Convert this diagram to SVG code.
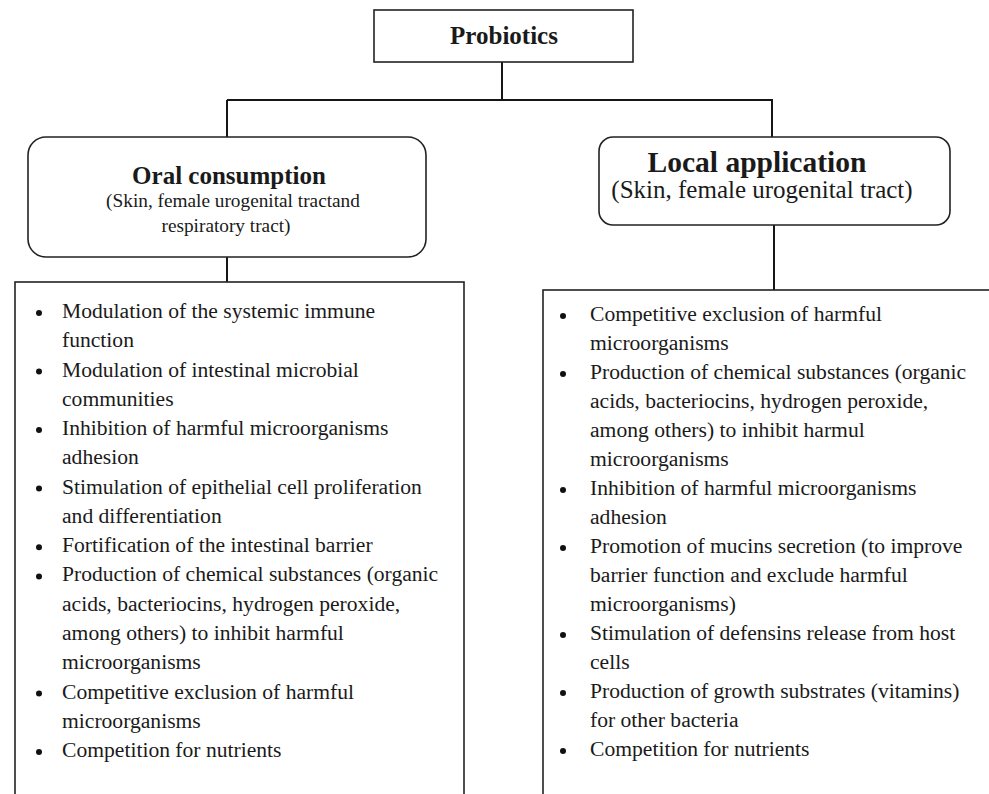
<svg xmlns="http://www.w3.org/2000/svg" width="989" height="794" viewBox="0 0 989 794">
<style>
.box{fill:#fff;stroke:#222;stroke-width:1.6}
.conn{stroke:#161616;stroke-width:2;fill:none}
.h{font-family:"Liberation Serif",serif;font-weight:bold;font-size:25px;fill:#1a1a1a;text-anchor:middle}
.s{font-family:"Liberation Serif",serif;font-size:19.3px;fill:#1a1a1a;text-anchor:middle}
.h2{font-family:"Liberation Serif",serif;font-weight:bold;font-size:29.5px;fill:#1a1a1a;text-anchor:middle}
.s2{font-family:"Liberation Serif",serif;font-size:25px;fill:#1a1a1a;text-anchor:middle}
.li{font-family:"Liberation Serif",serif;font-size:21.6px;fill:#1a1a1a}
.b{fill:#111}
</style>
<rect width="989" height="794" fill="#fff"/>
<g id="connectors">
<line class="conn" x1="502" y1="62" x2="502" y2="100"/>
<line class="conn" x1="227" y1="100" x2="773" y2="100"/>
<line class="conn" x1="227" y1="100" x2="227" y2="137"/>
<line class="conn" x1="772" y1="100" x2="772" y2="137"/>
<line class="conn" x1="227" y1="257" x2="227" y2="282"/>
<line class="conn" x1="774" y1="225" x2="774" y2="290"/>
</g>
<g id="probiotics">
<rect class="box" x="374" y="10" width="259" height="52"/>
<text class="h" x="504" y="44">Probiotics</text>
</g>
<g id="oral">
<rect class="box" x="28" y="137" width="398" height="120" rx="18"/>
<text class="h" x="229" y="184">Oral consumption</text>
<text class="s" x="233" y="207">(Skin, female urogenital tractand</text>
<text class="s" x="226" y="232">respiratory tract)</text>
</g>
<g id="local">
<rect class="box" x="599" y="137" width="351" height="88" rx="14"/>
<text class="h2" x="757" y="172">Local application</text>
<text class="s2" x="762" y="198">(Skin, female urogenital tract)</text>
</g>
<g id="oral-list">
<rect class="box" x="15" y="282" width="449" height="530"/>
<g class="b">
<circle cx="39" cy="313" r="3"/>
<circle cx="39" cy="371.5" r="3"/>
<circle cx="39" cy="430.1" r="3"/>
<circle cx="39" cy="488.6" r="3"/>
<circle cx="39" cy="547.2" r="3"/>
<circle cx="39" cy="576.4" r="3"/>
<circle cx="39" cy="693.5" r="3"/>
<circle cx="39" cy="752" r="3"/>
</g>
<text class="li" x="62" y="318">Modulation of the systemic immune</text>
<text class="li" x="62" y="347.3">function</text>
<text class="li" x="62" y="376.5">Modulation of intestinal microbial</text>
<text class="li" x="62" y="405.8">communities</text>
<text class="li" x="62" y="435.1">Inhibition of harmful microorganisms</text>
<text class="li" x="62" y="464.4">adhesion</text>
<text class="li" x="62" y="493.6">Stimulation of epithelial cell proliferation</text>
<text class="li" x="62" y="522.9">and differentiation</text>
<text class="li" x="62" y="552.2">Fortification of the intestinal barrier</text>
<text class="li" x="62" y="581.4">Production of chemical substances (organic</text>
<text class="li" x="62" y="610.7">acids, bacteriocins, hydrogen peroxide,</text>
<text class="li" x="62" y="640">among others) to inhibit harmful</text>
<text class="li" x="62" y="669.2">microorganisms</text>
<text class="li" x="62" y="698.5">Competitive exclusion of harmful</text>
<text class="li" x="62" y="727.8">microorganisms</text>
<text class="li" x="62" y="757">Competition for nutrients</text>
</g>
<g id="local-list">
<rect class="box" x="543" y="290" width="460" height="530"/>
<g class="b">
<circle cx="563" cy="316" r="3"/>
<circle cx="563" cy="374" r="3"/>
<circle cx="563" cy="490" r="3"/>
<circle cx="563" cy="548" r="3"/>
<circle cx="563" cy="635" r="3"/>
<circle cx="563" cy="693" r="3"/>
<circle cx="563" cy="751" r="3"/>
</g>
<text class="li" x="590" y="321">Competitive exclusion of harmful</text>
<text class="li" x="590" y="350">microorganisms</text>
<text class="li" x="590" y="379">Production of chemical substances (organic</text>
<text class="li" x="590" y="408">acids, bacteriocins, hydrogen peroxide,</text>
<text class="li" x="590" y="437">among others) to inhibit harmul</text>
<text class="li" x="590" y="466">microorganisms</text>
<text class="li" x="590" y="495">Inhibition of harmful microorganisms</text>
<text class="li" x="590" y="524">adhesion</text>
<text class="li" x="590" y="553">Promotion of mucins secretion (to improve</text>
<text class="li" x="590" y="582">barrier function and exclude harmful</text>
<text class="li" x="590" y="611">microorganisms)</text>
<text class="li" x="590" y="640">Stimulation of defensins release from host</text>
<text class="li" x="590" y="669">cells</text>
<text class="li" x="590" y="698">Production of growth substrates (vitamins)</text>
<text class="li" x="590" y="727">for other bacteria</text>
<text class="li" x="590" y="756">Competition for nutrients</text>
</g>
</svg>
